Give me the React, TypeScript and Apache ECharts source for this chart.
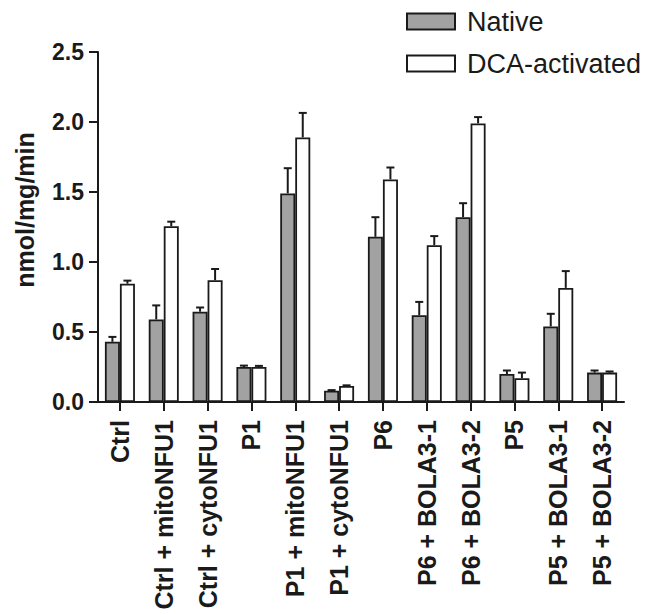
import React, { useEffect, useRef } from "react";
import * as echarts from "echarts";

const categories = [
  "Ctrl",
  "Ctrl + mitoNFU1",
  "Ctrl + cytoNFU1",
  "P1",
  "P1 + mitoNFU1",
  "P1 + cytoNFU1",
  "P6",
  "P6 + BOLA3-1",
  "P6 + BOLA3-2",
  "P5",
  "P5 + BOLA3-1",
  "P5 + BOLA3-2",
];
const nativeValues = [0.43, 0.59, 0.645, 0.25, 1.49, 0.08, 1.18, 0.62, 1.32, 0.2, 0.54, 0.21];
const nativeErrors = [0.035, 0.1, 0.03, 0.01, 0.18, 0.005, 0.14, 0.095, 0.1, 0.025, 0.09, 0.015];
const dcaValues = [0.845, 1.255, 0.87, 0.25, 1.89, 0.115, 1.59, 1.12, 1.99, 0.17, 0.815, 0.21];
const dcaErrors = [0.022, 0.033, 0.08, 0.008, 0.175, 0.004, 0.085, 0.065, 0.045, 0.04, 0.12, 0.008];
const seriesNames = ["Native", "DCA-activated"];
const yTicks = { min: 0, max: 2.5, interval: 0.5 };
const yAxisTitle = "nmol/mg/min";

const FONT = "'Liberation Sans', Arial, Helvetica, sans-serif";
const CAT_GAP = 0.315;
const INK = "#1a1a1a";

function errorSeries(values: number[], errors: number[], side: number) {
  return {
    type: "custom",
    z: 5,
    silent: true,
    encode: { x: 0, y: 1 },
    data: values.map((v, i) => [i, v + errors[i], v]),
    renderItem: (params: any, api: any) => {
      const i = api.value(0);
      const top = api.value(1);
      const base = api.value(2);
      const pBase = api.coord([i, base]);
      const pTop = api.coord([i, top]);
      const band = api.size([1, 0])[0];
      const bw = (band * (1 - CAT_GAP)) / 2;
      const x = pBase[0] + (side * bw) / 2;
      const style = { stroke: INK, lineWidth: 2 };
      return {
        type: "group",
        children: [
          { type: "line", shape: { x1: x, y1: pBase[1], x2: x, y2: pTop[1] }, style },
          { type: "line", shape: { x1: x - 4, y1: pTop[1], x2: x + 4, y2: pTop[1] }, style },
        ],
      };
    },
  };
}

export default function App() {
  const ref = useRef<HTMLDivElement>(null);
  useEffect(() => {
    if (!ref.current) return;
    const chart = echarts.init(ref.current, null, { renderer: "svg" });
    chart.setOption({
      animation: false,
      backgroundColor: "#ffffff",
      textStyle: { fontFamily: FONT },
      grid: { left: 98, right: 23, top: 52, bottom: 214, containLabel: false },
      legend: {
        data: seriesNames,
        orient: "vertical",
        left: 406,
        top: 8,
        icon: "rect",
        itemWidth: 48,
        itemHeight: 16,
        itemGap: 15,
        padding: 0,
        textStyle: { fontSize: 27, color: INK, fontFamily: FONT, lineHeight: 26, padding: [0, 0, 0, 7] },
      },
      xAxis: {
        type: "category",
        data: categories,
        axisLine: { show: true, lineStyle: { color: INK, width: 2 } },
        axisTick: { show: true, alignWithLabel: true, length: 9, lineStyle: { color: INK, width: 2 } },
        axisLabel: {
          rotate: 90,
          margin: 18,
          fontSize: 25,
          fontWeight: "bold",
          color: INK,
          fontFamily: FONT,
          interval: 0,
        },
        splitLine: { show: false },
      },
      yAxis: {
        type: "value",
        min: yTicks.min,
        max: yTicks.max,
        interval: yTicks.interval,
        axisLine: { show: true, lineStyle: { color: INK, width: 2 } },
        axisTick: { show: true, length: 9, lineStyle: { color: INK, width: 2 } },
        axisLabel: {
          margin: 14,
          fontSize: 23,
          fontWeight: "bold",
          color: INK,
          fontFamily: FONT,
          formatter: (v: number) => v.toFixed(1),
        },
        splitLine: { show: false },
      },
      graphic: [
        {
          type: "text",
          x: 25,
          y: 210,
          rotation: Math.PI / 2,
          style: {
            text: yAxisTitle,
            fontSize: 25,
            fontWeight: "bold",
            fontFamily: FONT,
            fill: INK,
            textAlign: "center",
            textVerticalAlign: "middle",
          },
        },
      ],
      series: [
        {
          name: seriesNames[0],
          type: "bar",
          data: nativeValues,
          barGap: "0%",
          barCategoryGap: CAT_GAP * 100 + "%",
          itemStyle: { color: "#a2a2a2", borderColor: INK, borderWidth: 1.8 },
        },
        {
          name: seriesNames[1],
          type: "bar",
          data: dcaValues,
          barGap: "0%",
          barCategoryGap: CAT_GAP * 100 + "%",
          itemStyle: { color: "#ffffff", borderColor: INK, borderWidth: 1.8 },
        },
        errorSeries(nativeValues, nativeErrors, -1),
        errorSeries(dcaValues, dcaErrors, 1),
      ],
    });
    return () => chart.dispose();
  }, []);
  return (
    <div
      ref={ref}
      style={{ position: "fixed", left: 0, top: 0, width: 647, height: 616, background: "#fff" }}
    />
  );
}
